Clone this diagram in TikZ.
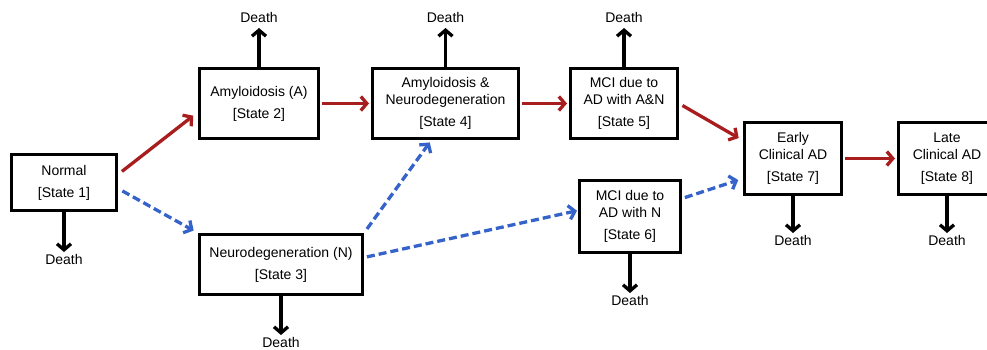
\documentclass[tikz,border=0pt]{standalone}
\usepackage{fontspec}
\setmainfont{Liberation Sans}
\usetikzlibrary{arrows.meta, positioning}
\definecolor{pathred}{HTML}{A81D1D}
\definecolor{pathblue}{HTML}{3563C9}
\newcommand{\statelbl}[1]{{[State #1]}}

\begin{document}
\begin{tikzpicture}[
    x=1pt, y=-1pt,
    box/.style={draw, line width=3pt, align=center, font=\fontsize{14}{17}\selectfont, inner sep=2pt},
    death/.style={font=\fontsize{14}{17}\selectfont, inner sep=2.5pt},
    flow/.style={line width=3.3pt, -{Straight Barb[length=6pt,width=14pt]}},
    redflow/.style={flow, pathred},
    blueflow/.style={flow, pathblue, dash pattern=on 8pt off 4pt},
    dies/.style={flow, black}
  ]
    \useasboundingbox (0,0) rectangle (987,349);

    \node[box, minimum width=105pt, minimum height=56pt] (normal) at (64,182.5) {Normal\\[5pt]\statelbl{1}};
    \node[box, minimum width=119pt, minimum height=70pt, above right=13pt and 80pt of normal] (amyl) {Amyloidosis (A)\\[5pt]\statelbl{2}};
    \node[box, minimum width=163pt, minimum height=60pt, below right=21pt and 80pt of normal] (neuro) {Neurodegeneration (N)\\[5pt]\statelbl{3}};
    \node[box, minimum width=146pt, minimum height=70pt, right=51pt of amyl] (both) {Amyloidosis \&\\Neurodegeneration\\[5pt]\statelbl{4}};
    \node[box, minimum width=107pt, minimum height=70pt, right=49pt of both] (mciAN) {MCI due to\\AD with A\&N\\[5pt]\statelbl{5}};
    \node[box, minimum width=101pt, minimum height=72pt, below=39pt of mciAN, xshift=6pt] (mciN) {MCI due to\\AD with N\\[5pt]\statelbl{6}};
    \node[box, minimum width=97pt, minimum height=72pt, below right=0pt and 64pt of mciAN, yshift=19pt] (early) {Early\\Clinical AD\\[5pt]\statelbl{7}};
    \node[box, minimum width=97pt, minimum height=72pt, right=54pt of early] (late) {Late\\Clinical AD\\[5pt]\statelbl{8}};

    % death exits
    \node[death, below=40pt of normal] (d1) {Death};
    \node[death, above=42pt of amyl] (d2) {Death};
    \node[death, below=39pt of neuro] (d3) {Death};
    \node[death, above=42pt of both] (d4) {Death};
    \node[death, above=42pt of mciAN] (d5) {Death};
    \node[death, below=39pt of mciN] (d6) {Death};
    \node[death, below=37pt of early] (d7) {Death};
    \node[death, below=37pt of late] (d8) {Death};

    \draw[dies] (normal) -- (d1);
    \draw[dies, shorten >=3pt] (amyl) -- (d2);
    \draw[dies] (neuro) -- (d3);
    \draw[dies, shorten >=3pt] (both) -- (d4);
    \draw[dies, shorten >=3pt] (mciAN) -- (d5);
    \draw[dies] (mciN) -- (d6);
    \draw[dies] (early) -- (d7);
    \draw[dies] (late) -- (d8);

    % amyloid-first path
    \draw[redflow, shorten <=5pt, shorten >=6pt] ([yshift=8pt]normal.east) -- ([yshift=-8.5pt]amyl.west);
    \draw[redflow, shorten <=2pt, shorten >=2pt] (amyl) -- (both);
    \draw[redflow, shorten <=2pt, shorten >=2pt] (both) -- (mciAN);
    \draw[redflow, shorten <=4pt, shorten >=5pt] (mciAN.east) -- ([yshift=18pt]early.west);
    \draw[redflow, shorten <=2pt, shorten >=2pt] (early) -- (late);

    % neurodegeneration-first path
    \draw[blueflow, shorten <=5pt, shorten >=5pt] ([yshift=-6pt]normal.east) -- (neuro.north west);
    \draw[blueflow, shorten <=5pt, shorten >=3pt] (neuro.north east) -- ([xshift=-14pt]both.south);
    \draw[blueflow, shorten <=3pt, shorten >=1pt] ([yshift=7pt]neuro.east) -- ([yshift=6pt]mciN.west);
    \draw[blueflow, shorten <=3pt, shorten >=5pt] ([yshift=18pt]mciN.east) -- ([yshift=-20pt]early.west);
  \end{tikzpicture}
\end{document}
